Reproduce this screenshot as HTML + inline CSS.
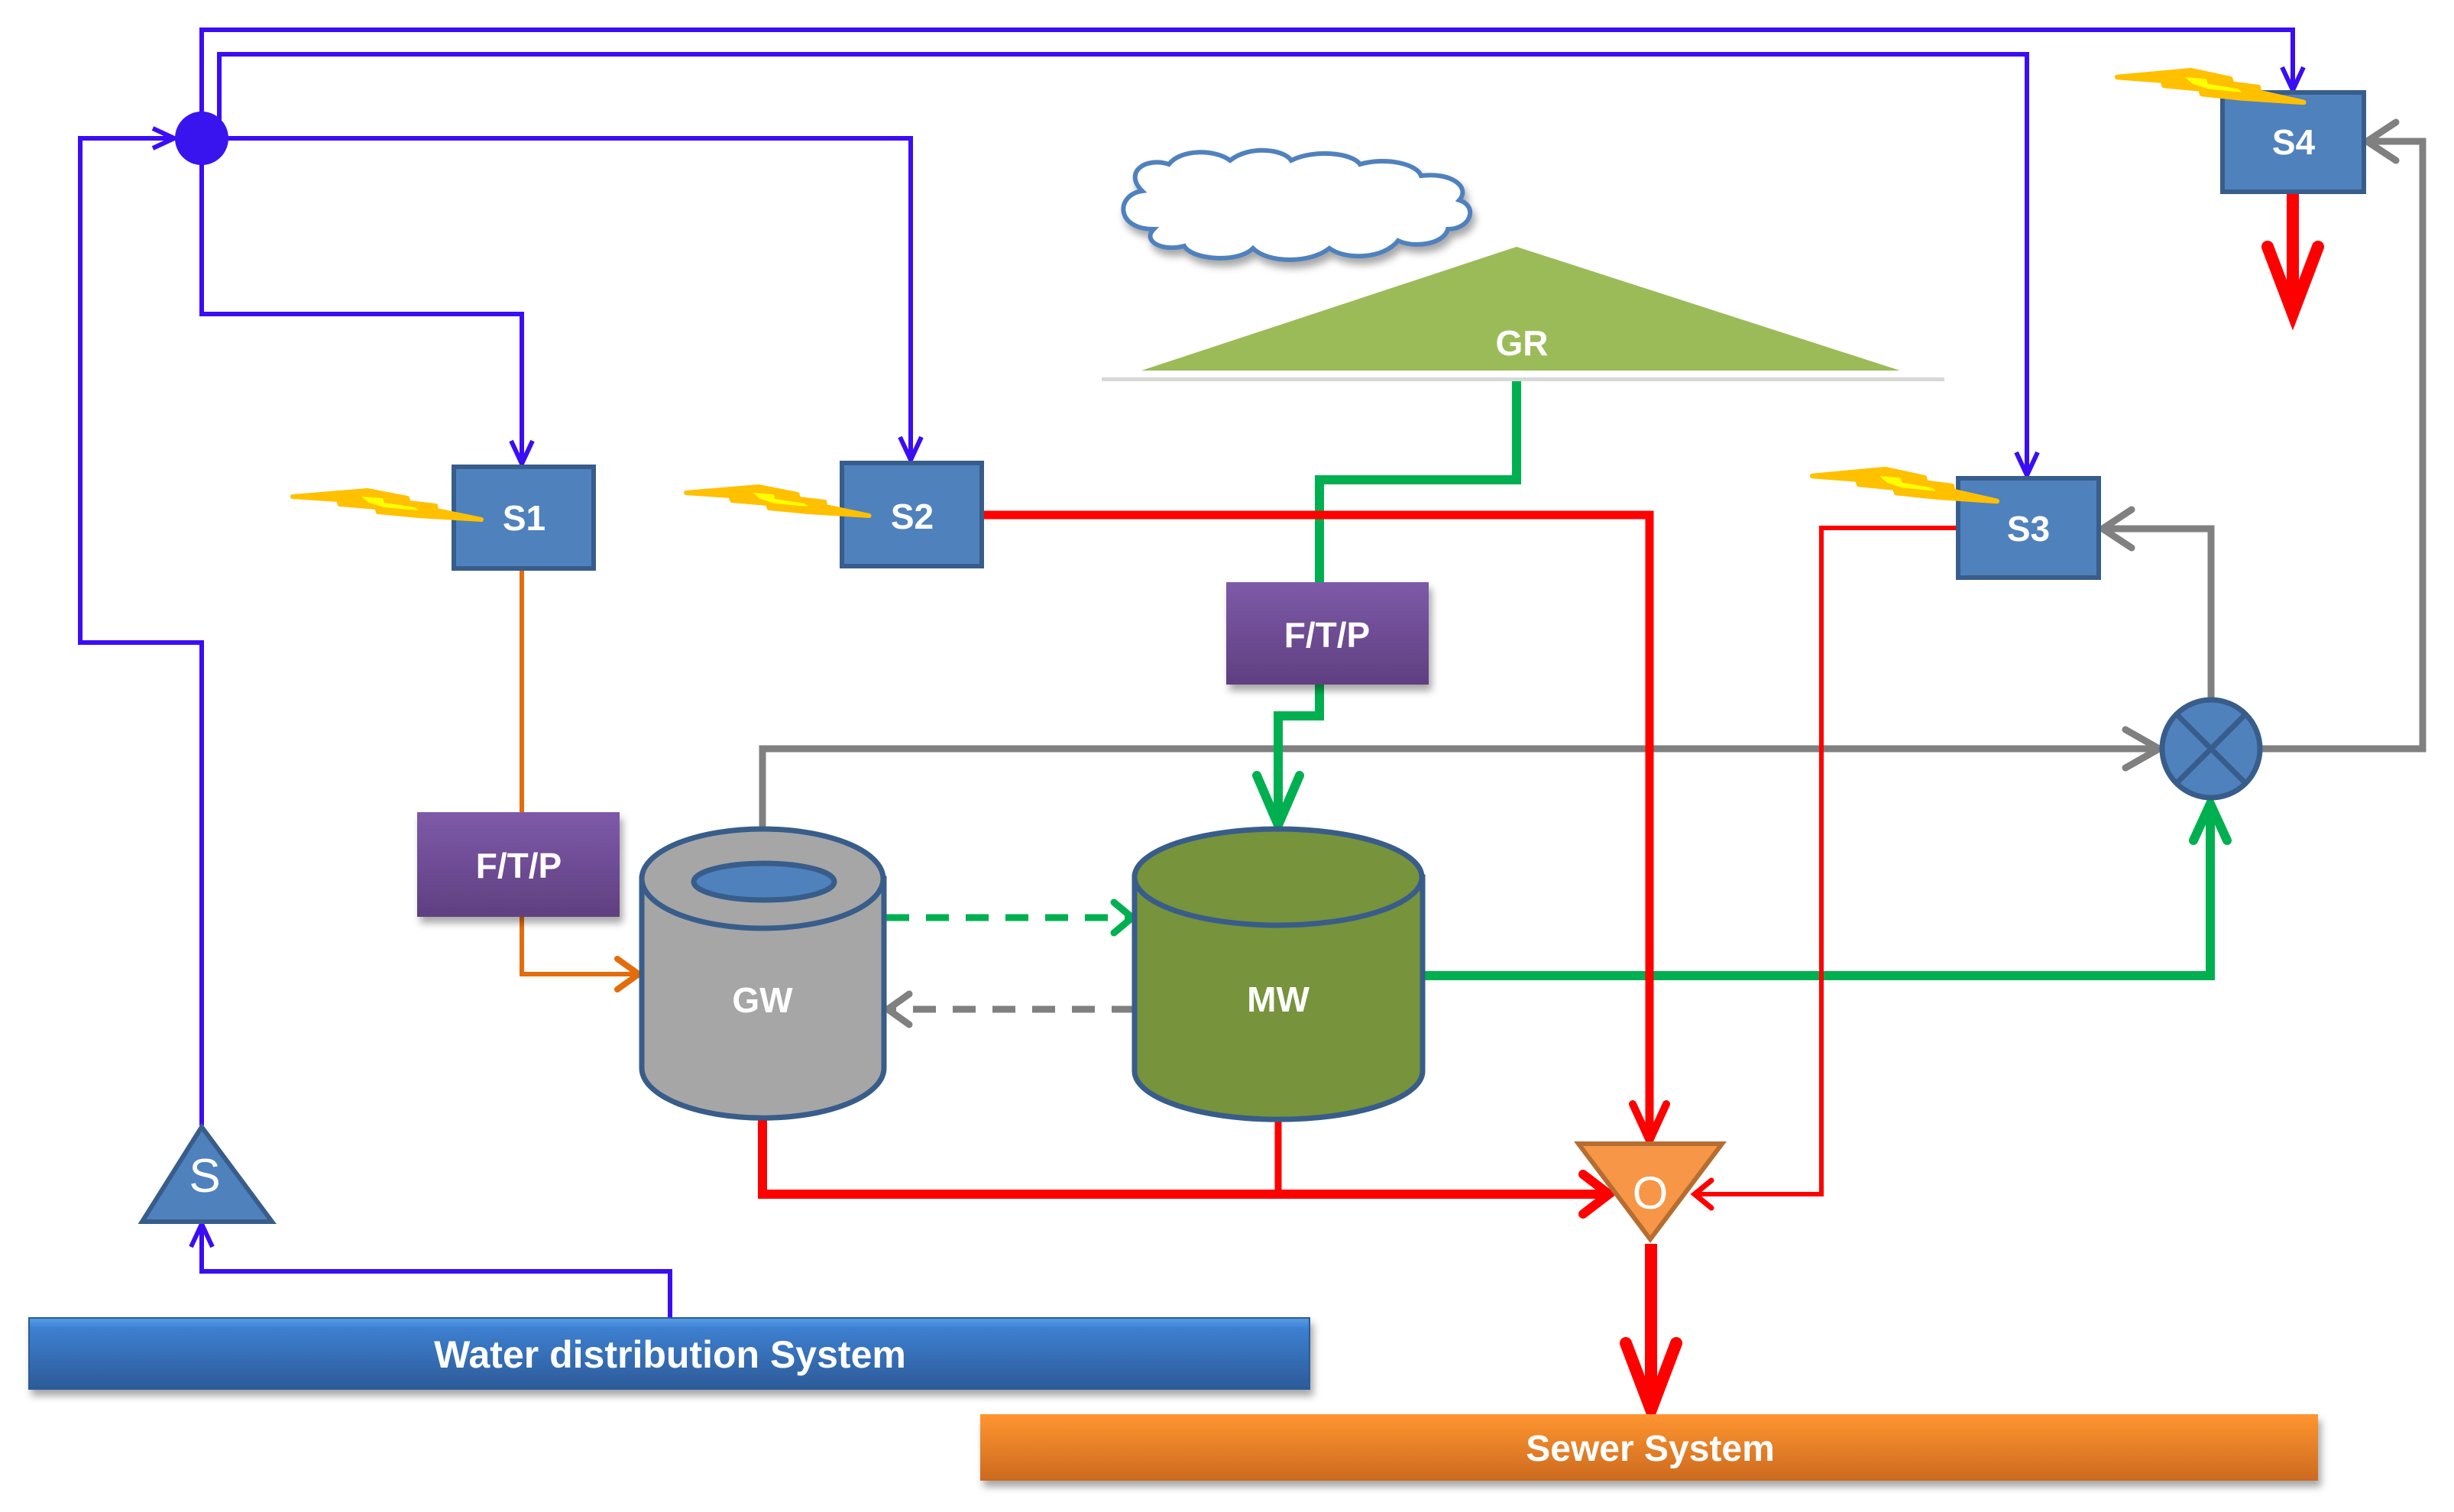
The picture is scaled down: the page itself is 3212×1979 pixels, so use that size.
<!DOCTYPE html>
<html><head><meta charset="utf-8"><style>
html,body{margin:0;padding:0;background:#fff;}
svg{display:block;}
text{font-family:"Liberation Sans Narrow","Liberation Sans",sans-serif;font-weight:bold;fill:#fff;}
</style></head><body>
<svg width="3212" height="1979" viewBox="0 0 3212 1979" xmlns="http://www.w3.org/2000/svg">
<defs>
<linearGradient id="pur" x1="0" y1="0" x2="0" y2="1"><stop offset="0" stop-color="#7e5aa8"/><stop offset="1" stop-color="#5f3f80"/></linearGradient>
<linearGradient id="wds" x1="0" y1="0" x2="0" y2="1"><stop offset="0" stop-color="#5a9ee8"/><stop offset="0.15" stop-color="#3d7fd0"/><stop offset="1" stop-color="#2c5b98"/></linearGradient>
<linearGradient id="sew" x1="0" y1="0" x2="0" y2="1"><stop offset="0" stop-color="#ff9530"/><stop offset="1" stop-color="#cc6a20"/></linearGradient>
<filter id="sh" x="-10%" y="-10%" width="130%" height="140%"><feDropShadow dx="4" dy="8" stdDeviation="5" flood-color="#000" flood-opacity="0.35"/></filter>
<g id="bolt">
<polygon points="0,10 98,2 150,12 152,18 187,22 188,28 247,40 165,35 112,30 110,24 62,20 60,14" fill="#ffc000" stroke="#ffc000" stroke-width="6" stroke-linejoin="round"/>
<polygon points="90,10 118,12 120,18 160,24 165,28 120,24 100,18" fill="#ffff00"/>
</g>
</defs>

<g fill="none" stroke="#3a0df5" stroke-width="6" stroke-linejoin="miter">
<polyline points="264,181 264,39 3001,39 3001,118"/>
<polyline points="287,181 287,71 2653,71 2653,623"/>
<polyline points="264,181 1192,181 1192,603"/>
<polyline points="264,181 264,411 683,411 683,608"/>
<polyline points="264,1473 264,841 105,841 105,181 228,181"/>
<polyline points="877,1725 877,1664 264,1664 264,1602"/>
<polyline points="2987,88 3001,118 3015,88"/>
<polyline points="2639,592 2653,622 2667,592"/>
<polyline points="1178,572 1192,602 1206,572"/>
<polyline points="669,577 683,607 697,577"/>
<polyline points="200,168 228,181 200,194"/>
<polyline points="250,1632 264,1602 278,1632"/>
</g>
<circle cx="264" cy="181" r="35" fill="#3a14ee"/>

<g fill="none" stroke="#808080" stroke-width="9" stroke-linecap="round" stroke-linejoin="miter">
<polyline points="998,1090 998,980 2826,980"/>
<polyline points="2894,914 2894,692 2752,692"/>
<polyline points="2960,980 3171,980 3171,185 3098,185"/>
<polyline points="2782,955 2826,980 2782,1005"/>
<polyline points="2790,667 2752,692 2790,717"/>
<polyline points="3136,160 3098,185 3136,210"/>
<line x1="1485" y1="1321" x2="1165" y2="1321" stroke-dasharray="30,22" stroke-linecap="butt"/>
<polyline points="1190,1301 1162,1321 1190,1341"/>
</g>

<g fill="none" stroke="#00b050" stroke-width="12" stroke-linejoin="miter">
<polyline points="1985,493 1985,628 1727,628 1727,762"/>
<polyline points="1727,896 1727,937 1673,937 1673,1080"/>
<polyline points="1645,1015 1673,1080 1701,1015" stroke-linecap="round"/>
<polyline points="1862,1277 2893,1277 2893,1052"/>
<polyline points="2871,1100 2893,1052 2915,1100" stroke-linecap="round"/>
<line x1="1160" y1="1201" x2="1480" y2="1201" stroke-width="9" stroke-dasharray="30,22"/>
<polyline points="1458,1181 1482,1201 1458,1221" stroke-width="9" stroke-linecap="round"/>
</g>

<g fill="none" stroke="#e46c0a" stroke-width="6">
<line x1="683" y1="745" x2="683" y2="1063"/>
<polyline points="683,1200 683,1275 836,1275"/>
<polyline points="808,1255 836,1275 808,1295" stroke-width="8" stroke-linecap="round"/>
</g>

<g fill="none" stroke="#ff0000" stroke-linejoin="miter">
<polyline points="1287,674 2159,674 2159,1492" stroke-width="11"/>
<polyline points="2137,1445 2159,1493 2181,1445" stroke-width="10" stroke-linecap="round"/>
<polyline points="998,1463 998,1563 2104,1563" stroke-width="12"/>
<line x1="1673" y1="1465" x2="1673" y2="1563" stroke-width="9"/>
<polyline points="2072,1537 2106,1563 2072,1589" stroke-width="12" stroke-linecap="round"/>
<polyline points="2560,691 2384,691 2384,1563 2218,1563" stroke-width="6"/>
<polyline points="2240,1545 2218,1563 2240,1581" stroke-width="7" stroke-linecap="round"/>
<line x1="2161" y1="1628" x2="2161" y2="1835" stroke-width="16"/>
<polyline points="2128,1758 2161,1845 2194,1758" stroke-width="16" stroke-linecap="round"/>
<line x1="3001" y1="252" x2="3001" y2="400" stroke-width="16"/>
<polyline points="2968,323 3001,410 3034,323" stroke-width="16" stroke-linecap="round"/>
</g>

<g filter="url(#sh)">
<path d="M1510,300 C1460,300 1460,255 1495,250 C1470,225 1500,205 1530,215 C1545,195 1590,195 1610,210 C1635,190 1680,195 1690,210 C1720,195 1770,200 1780,215 C1815,205 1855,215 1860,230 C1900,225 1925,245 1910,262 C1935,270 1925,300 1895,300 C1890,320 1850,325 1830,315 C1810,340 1760,340 1740,325 C1715,345 1660,345 1640,325 C1620,345 1560,340 1550,322 C1520,330 1495,315 1510,300 Z" fill="#fff" stroke="#4f81bd" stroke-width="6"/>
</g>

<line x1="1442" y1="495" x2="2545" y2="495" stroke="#d8d8d8" stroke-width="8"/>
<line x1="1442" y1="492" x2="2545" y2="492" stroke="#fff" stroke-width="4"/>
<polygon points="1494,485 1985,323 2487,485" fill="#9bbb59"/>
<text x="1992" y="465" font-size="46" text-anchor="middle">GR</text>

<g fill="#4f81bd" stroke="#385d8a" stroke-width="6">
<rect x="594" y="611" width="183" height="133"/>
<rect x="1102" y="606" width="183" height="135"/>
<rect x="2563" y="626" width="184" height="130"/>
<rect x="2909" y="121" width="185" height="130"/>
</g>
<use href="#bolt" transform="translate(383,640)"/>
<use href="#bolt" transform="translate(898,635) scale(0.97,1)"/>
<use href="#bolt" transform="translate(2372,612) scale(0.98,1.1)"/>
<use href="#bolt" transform="translate(2771,90) scale(0.99,1.1)"/>
<g font-size="46" text-anchor="middle">
<text x="686" y="694">S1</text>
<text x="1194" y="692">S2</text>
<text x="2655" y="708">S3</text>
<text x="3002" y="202">S4</text>
</g>

<rect x="546" y="1063" width="265" height="137" fill="url(#pur)" filter="url(#sh)"/>
<rect x="1605" y="762" width="265" height="134" fill="url(#pur)" filter="url(#sh)"/>
<text x="679" y="1149" font-size="46" text-anchor="middle">F/T/P</text>
<text x="1737" y="847" font-size="46" text-anchor="middle">F/T/P</text>

<path d="M840,1150 L840,1398 A158,65 0 0 0 1157,1398 L1157,1150 Z" fill="#a6a6a6" stroke="#385d8a" stroke-width="7"/>
<ellipse cx="998" cy="1150" rx="158" ry="65" fill="#a6a6a6" stroke="#385d8a" stroke-width="7"/>
<ellipse cx="1000" cy="1154" rx="92" ry="24" fill="#4f81bd" stroke="#385d8a" stroke-width="7"/>
<text x="998" y="1325" font-size="46" text-anchor="middle">GW</text>

<path d="M1485,1148 L1485,1402 A188,63 0 0 0 1862,1402 L1862,1148 Z" fill="#77933c" stroke="#385d8a" stroke-width="7"/>
<ellipse cx="1673" cy="1148" rx="188" ry="63" fill="#77933c" stroke="#385d8a" stroke-width="7"/>
<text x="1673" y="1324" font-size="46" text-anchor="middle">MW</text>

<circle cx="2894" cy="980" r="64" fill="#4f81bd" stroke="#385d8a" stroke-width="7"/>
<line x1="2849" y1="935" x2="2939" y2="1025" stroke="#385d8a" stroke-width="7"/>
<line x1="2939" y1="935" x2="2849" y2="1025" stroke="#385d8a" stroke-width="7"/>

<polygon points="264,1475 186,1599 356,1599" fill="#4f81bd" stroke="#385d8a" stroke-width="6"/>
<text x="268" y="1560" font-size="62" text-anchor="middle" style="font-weight:normal">S</text>

<polygon points="2066,1497 2254,1497 2160,1622" fill="#f79646" stroke="#b66d31" stroke-width="6"/>
<text x="2160" y="1582" font-size="60" text-anchor="middle" style="font-weight:normal">O</text>

<rect x="38" y="1725" width="1676" height="93" fill="url(#wds)" stroke="#2c5b98" stroke-width="2" filter="url(#sh)"/>
<text x="877" y="1790" font-size="50" text-anchor="middle">Water distribution System</text>
<rect x="1283" y="1851" width="1751" height="87" fill="url(#sew)" filter="url(#sh)"/>
<text x="2160" y="1912" font-size="48" text-anchor="middle">Sewer System</text>
</svg>
</body></html>
